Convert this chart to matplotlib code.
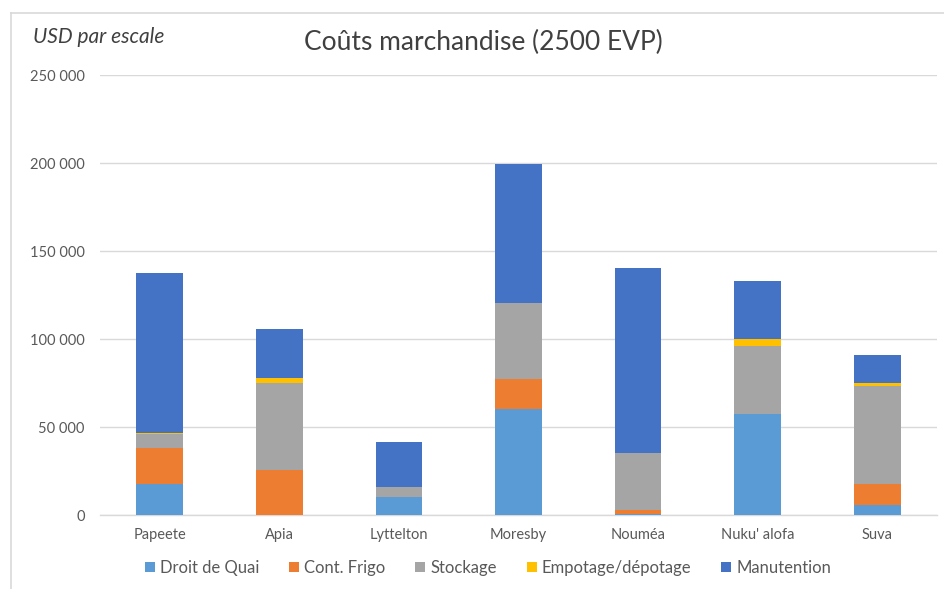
import matplotlib
matplotlib.use("Agg")
import matplotlib.pyplot as plt
from matplotlib.patches import Patch
from matplotlib.lines import Line2D
import numpy as np

plt.rcParams['font.family'] = ['Lato', 'DejaVu Sans']

ports = ["Papeete", "Apia", "Lyttelton", "Moresby", "Nouméa", "Nuku' alofa", "Suva"]
droit_quai = [17600, 0, 10200, 60200, 500, 57500, 5700]
cont_frigo = [20600, 25900, 0, 17100, 2500, 0, 12100]
stockage = [7800, 49400, 5700, 43300, 32200, 38700, 55800]
empotage = [800, 2700, 0, 0, 0, 3800, 1400]
manutention = [90700, 27900, 25900, 78800, 105300, 33100, 16100]

series_names = ["Droit de Quai", "Cont. Frigo", "Stockage", "Empotage/dépotage", "Manutention"]
colors = ["#5B9BD5", "#ED7D31", "#A5A5A5", "#FFC000", "#4472C4"]
yticks = [0, 50000, 100000, 150000, 200000, 250000]
ytick_labels = ["0", "50 000", "100 000", "150 000", "200 000", "250 000"]

fig = plt.figure(figsize=(9.44, 5.89), dpi=100)
ax = fig.add_axes([100/944, 1-515.3/589, 837/944, 440/589])

x = np.arange(len(ports))
bottom = np.zeros(len(ports))
for name, vals, c in zip(series_names, [droit_quai, cont_frigo, stockage, empotage, manutention], colors):
    vals = np.array(vals, dtype=float)
    ax.bar(x, vals, width=0.39, bottom=bottom, color=c, label=name, zorder=3)
    bottom += vals

ax.set_xlim(-0.5, len(ports) - 0.5)
ax.set_ylim(0, 250000)
ax.set_yticks(yticks)
ax.set_yticklabels(ytick_labels)
ax.set_xticks(x)
ax.set_xticklabels(ports)
ax.tick_params(axis='both', length=0, colors="#595959")
ax.tick_params(axis='y', pad=11, labelsize=10.5)
ax.tick_params(axis='x', pad=9, labelsize=10.5)
ax.grid(axis='y', color="#D9D9D9", linewidth=1, zorder=0)
for s in ["top", "right", "left"]:
    ax.spines[s].set_visible(False)
ax.spines["bottom"].set_color("#D9D9D9")
ax.spines["bottom"].set_linewidth(1)

fig.text(483/944, 1-42/589, "Coûts marchandise (2500 EVP)", ha="center", va="center",
         fontsize=19, color="#404040")
fig.text(33/944, 1-37/589, "USD par escale", ha="left", va="center",
         fontsize=15, style="italic", color="#404040")

handles = [Patch(facecolor=c, edgecolor="none") for c in colors]
fig.legend(handles, series_names, loc="center", bbox_to_anchor=(488/944, 1-568/589),
           ncol=5, frameon=False, fontsize=12, labelcolor="#595959",
           handlelength=0.6, handleheight=0.6, handletextpad=0.3, columnspacing=1.8)

# outer frame lines (top and left)
fig.add_artist(Line2D([11/944, 1.0], [1-13/589, 1-13/589], color="#D9D9D9", linewidth=1.2))
fig.add_artist(Line2D([11/944, 11/944], [0, 1-13/589], color="#D9D9D9", linewidth=1.2))

fig.savefig("out.png", dpi=100)
